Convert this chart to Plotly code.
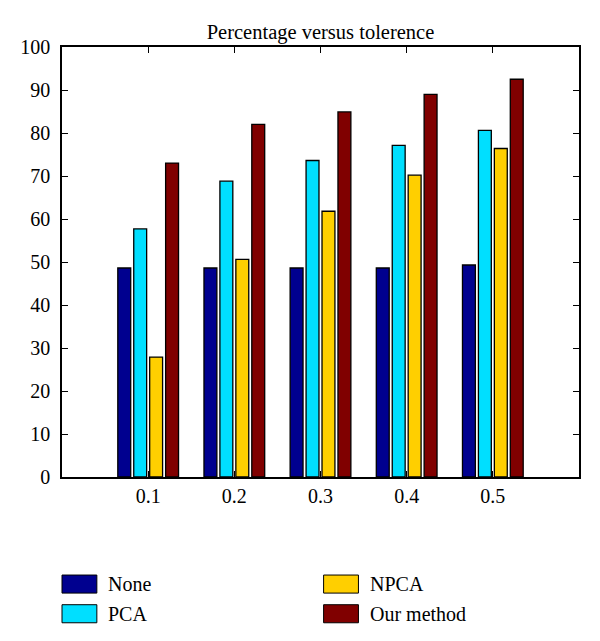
import plotly.graph_objects as go

tolerances = ["0.1", "0.2", "0.3", "0.4", "0.5"]
x_vals = [0.1, 0.2, 0.3, 0.4, 0.5]
series_names = ["None", "PCA", "NPCA", "Our method"]
none_vals = [48.6, 48.6, 48.6, 48.6, 49.3]
pca_vals = [57.7, 68.8, 73.6, 77.1, 80.6]
npca_vals = [27.9, 50.6, 61.8, 70.2, 76.4]
our_vals = [73.0, 82.0, 84.9, 89.0, 92.5]
colors = ["#00008F", "#00DFFF", "#FFCF00", "#800000"]
y_ticks = list(range(0, 101, 10))

FONT = "Liberation Serif"

fig = go.Figure()
for name, vals, col in zip(series_names, [none_vals, pca_vals, npca_vals, our_vals], colors):
    fig.add_trace(go.Bar(
        x=x_vals, y=vals, name=name,
        marker=dict(color=col, line=dict(color="black", width=1.3)),
        showlegend=False,
    ))

# custom legend (two columns, column-major order)
legend_pos = [(0.0, -0.249), (0.0, -0.318), (0.506, -0.249), (0.506, -0.318)]
sw_w, sw_h = 0.0674, 0.042
for (lx, ly), name, col in zip(legend_pos, series_names, colors):
    fig.add_shape(type="rect", xref="paper", yref="paper",
                  x0=lx, x1=lx + sw_w, y0=ly - sw_h / 2, y1=ly + sw_h / 2,
                  fillcolor=col, line=dict(color="black", width=1))
    fig.add_annotation(xref="paper", yref="paper", x=lx + 0.086, y=ly,
                       text=name, showarrow=False, xanchor="left", yanchor="middle",
                       font=dict(family=FONT, size=20, color="black"))

fig.update_layout(
    width=600, height=641,
    margin=dict(l=52, r=29, t=39, b=172),
    paper_bgcolor="white", plot_bgcolor="white",
    barmode="group", bargap=0.26, bargroupgap=0.19,
    font=dict(family=FONT, size=20, color="black"),
    title=dict(text="Percentage versus tolerence", x=0.5, xanchor="center",
               xref="paper",
               y=1 - 24 / 641, yanchor="middle", yref="container",
               font=dict(family=FONT, size=20.5, color="black")),
    xaxis=dict(range=[0, 0.6], tickvals=x_vals, ticktext=tolerances,
               showline=True, linecolor="black", linewidth=1.5, mirror="ticks",
               ticks="inside", ticklen=6, tickcolor="black", showgrid=False,
               zeroline=False, layer="below traces"),
    yaxis=dict(range=[0, 100], tickvals=y_ticks,
               showline=True, linecolor="black", linewidth=1.5, mirror="ticks",
               ticks="inside", ticklen=6, tickcolor="black", showgrid=False,
               zeroline=False, ticklabelstandoff=6),
)

fig.write_html("out.html")
